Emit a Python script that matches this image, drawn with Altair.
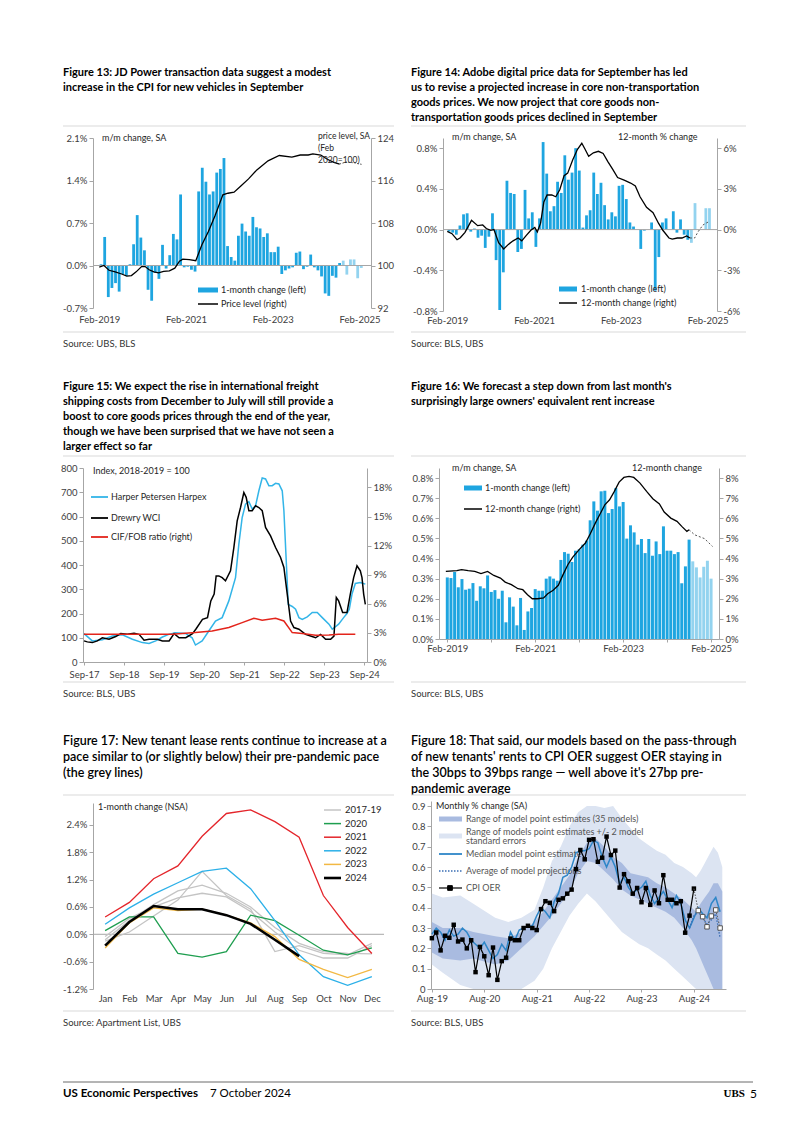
import json
import altair as alt
import pandas as pd

FONT = "Lato"
NARROW = "Lato"
ANNO = "Lato"
AXC = "#a6a6a6"
LABC = "#404040"
TXT = "#262626"
BLUE = "#1ea5e0"
BLUE_L = "#93d3ef"
SEP = "#d9d9d9"

# ---------------------------------------------------------------- data
# Figure 13: JD Power (m/m change, % ; price level Feb 2020 = 100), months from Feb-2019
f13_bars = [0.02, 0.47, -0.52, -0.37, -0.29, -0.43, -0.14, -0.17, 0.02, 0.35,
            0.83, 0.46, 0.25, -0.40, -0.58, -0.12, -0.22, 0.34, -0.05, 0.17,
            0.52, 0.43, 1.17, -0.03, -0.02, -0.07, -0.10, 1.22, 1.61, 1.38,
            1.17, 1.22, 1.53, 1.59, 1.77, 0.32, 0.14, 0.08, 0.49, 0.69,
            0.56, 0.49, 0.80, 0.63, 0.61, 0.47, 0.53, 0.22, 0.22, 0.31,
            -0.14, -0.08, -0.05, -0.03, 0.21, 0.23, -0.06, -0.02, 0.18, -0.03,
            -0.08, -0.18, -0.46, -0.50, -0.17, -0.20, 0.04]
f13_proj = [0.08, -0.15, 0.10, 0.10, -0.21, -0.04]
f13_line_m = [0, 1.3, 2.7, 4.4, 6.2, 7.6, 8.9, 10.2, 11.7, 12.7, 13.8, 15.1, 16.4, 17.8, 19.4,
              20.9, 22.2, 23.1, 24.9, 26.7, 28.4, 30.2, 32, 34.2, 35.6, 37.3, 39.1, 41.3, 43.6,
              46.7, 49.8, 53.3, 55.6, 57.8, 59.1, 61.3, 63.1, 64.9, 66.5]
f13_line_v = [99.7, 100.0, 99.1, 98.8, 98.4, 98.0, 98.1, 98.8, 99.8, 99.8, 99.2, 98.8, 98.6, 98.9, 99.0,
              99.5, 100.8, 101.2, 101.1, 100.9, 103.9, 106.4, 109.3, 113.3, 113.6, 113.8, 114.9, 116.3, 118.0,
              119.7, 120.7, 120.4, 120.8, 120.8, 121.0, 120.8, 120.0, 119.4, 119.1]
f13_dot_m = [66.5, 68.4, 70.7, 72.9]
f13_dot_v = [119.1, 119.5, 119.3, 119.0]
f13_xt = [0, 24, 48, 72]
f13_xl = ["Feb-2019", "Feb-2021", "Feb-2023", "Feb-2025"]

# Figure 14: Adobe digital prices, months from Feb-2019
f14_bars = [-0.02, -0.03, -0.05, 0.04, 0.15, 0.16, -0.02, 0.01, -0.08, -0.06,
            -0.18, -0.07, 0.16, -0.30, -0.79, -0.42, 0.48, 0.36, 0.35, -0.22,
            -0.19, 0.39, 0.11, 0.17, -0.17, 0.11, 0.86, 0.55, 0.18, 0.23,
            0.47, 0.36, 0.73, 0.49, 0.56, 0.80, 0.58, 0.02, 0.14, 0.19,
            0.56, 0.35, 0.46, 0.24, 0.10, 0.17, 0.13, 0.43, 0.44, 0.30,
            0.07, 0.03, 0.00, -0.19, -0.01, 0.00, 0.07, -0.60, -0.27, 0.07,
            0.11, 0.00, 0.18, -0.03, 0.10, -0.05, -0.10]
f14_proj = [-0.13, 0.26, 0.00, 0.00, 0.21, 0.21]
f14_line_m = [0, 1.3, 2.7, 3.6, 4.9, 6.7, 8.4, 9.8, 10.8, 12, 12.9, 14.2, 15.6, 16.9, 18.2,
              19.6, 20.6, 21.8, 23.1, 24.2, 24.9, 25.8, 26.7, 27.6, 28.9, 30, 31.1, 32.3, 33.3,
              34.7, 36, 37.2, 38.1, 39.1, 40.4, 41.8, 43.1, 44.4, 45.8, 47.1, 48.9, 50.7, 52,
              53.3, 55.1, 56.9, 58.4, 59.6, 61.3, 62.2, 63.6, 64.9, 66.2, 67.1]
f14_line_v = [-0.13, -0.3, -0.75, -0.6, -0.2, 0.68, 0.29, 0.34, 0.08, -0.05, 0, -0.96, -1.43, -1.09, -0.83,
              -0.62, -0.83, -0.44, -0.05, 0.16, -0.18, 0.47, 2.03, 2.55, 2.55, 2.42, 2.94, 3.97, 4.16,
              5.14, 5.92, 6.36, 5.92, 5.40, 5.66, 5.77, 5.61, 5.01, 4.42, 3.84, 3.64, 3.43, 3.22,
              2.42, 1.64, 1.25, 0.47, -0.05, -0.62, -0.70, -0.62, -0.62, -0.47, -0.62]
f14_dot_m = [67.1, 68.4, 69.3, 70.7, 72.4]
f14_dot_v = [-0.62, -0.62, -0.18, 0.34, 0.60]

# Figure 15: freight indices (months from Sep-2017)
f15_harpex_m = [0, 2.5, 5.5, 8.5, 11.5, 14.5, 17.5, 19.5, 21.5, 23.5, 25.4, 27.4, 30.4, 32.4, 33.4,
                35.4, 37.4, 39.4, 41.4, 43.4, 45.4, 46.4, 47.4, 48.4, 49.4, 50.4, 51.4, 52.4, 53.4,
                54.4, 55.4, 56.4, 57.4, 58.4, 59.4, 59.9, 60.6, 61.2, 62.4, 63.4, 64.4, 65.4, 66.9,
                68.4, 69.9, 71.4, 73.4, 74.4, 76.3, 77.8, 78.8, 79.5, 80.3, 81.3, 82.8, 84.3]
f15_harpex_v = [117, 87, 92, 107, 112, 94, 80, 76, 87, 103, 114, 121, 118, 100, 70,
                87, 128, 169, 183, 252, 348, 486, 596, 651, 661, 631, 644, 706, 759,
                755, 727, 727, 737, 734, 706, 624, 417, 238, 229, 218, 183, 176, 186,
                204, 204, 183, 156, 135, 156, 183, 200, 218, 280, 324, 328, 321]
f15_wci_m = [0, 1, 2.5, 4, 5.5, 7.5, 9.5, 11, 13, 15, 16.5, 18, 19.5, 22, 23.5, 25.5, 27, 28.5,
             30.5, 32.5, 33.5, 35.5, 37, 38, 39, 39.6, 40.4, 41.4, 42.4, 43.9, 44.9, 45.9, 46.9,
             47.9, 48.6, 49.4, 50.4, 51.4, 52.4, 53.4, 54.4, 55.9, 57.4, 58.9, 59.9, 60.9, 61.9,
             62.9, 64.4, 66.4, 67.9, 69.4, 70.9, 72.4, 73.9, 74.9, 75.6, 76.3, 77.5, 78.8, 79.8,
             80.8, 81.8, 82.8, 83.3, 83.8, 84.3]
f15_wci_v = [87, 83, 80, 87, 100, 94, 105, 117, 114, 118, 114, 90, 94, 94, 87, 87, 117, 100,
             100, 117, 135, 176, 183, 252, 280, 355, 355, 348, 335, 376, 472, 582, 637,
             699, 679, 624, 624, 644, 637, 624, 555, 520, 472, 431, 390, 280, 169,
             142, 135, 114, 107, 100, 114, 94, 94, 107, 266, 252, 204, 204, 280,
             348, 397, 376, 348, 280, 238]
f15_cif_m = [0, 8.5, 18.5, 26.4, 33.4, 38.4, 43.4, 47.4, 50.9, 53.4, 57.4, 59.9, 62.4, 65.4, 69.4, 73.4, 76.3, 81.3]
f15_cif_v = [2.86, 2.86, 2.86, 2.86, 3.03, 3.2, 3.55, 4.06, 4.51, 4.30, 4.51, 4.23, 3.03, 2.93, 2.75, 2.79, 2.86, 2.86]
f15_xt = [0, 12, 24, 36, 48, 60, 72, 84]
f15_xl = ["Sep-17", "Sep-18", "Sep-19", "Sep-20", "Sep-21", "Sep-22", "Sep-23", "Sep-24"]

# Figure 16 / 18: CPI OER m/m (%), Feb-2019 .. Aug-2024, then projections Sep-2024 .. Feb-2025
oer = [0.306, 0.303, 0.333, 0.257, 0.298, 0.245, 0.250, 0.278, 0.190, 0.262,
       0.252, 0.316, 0.234, 0.243, 0.200, 0.240, 0.083, 0.207, 0.161, 0.068,
       0.204, 0.045, 0.137, 0.154, 0.248, 0.240, 0.240, 0.300, 0.311, 0.300,
       0.290, 0.393, 0.432, 0.424, 0.383, 0.439, 0.446, 0.469, 0.489, 0.590,
       0.684, 0.638, 0.734, 0.737, 0.626, 0.646, 0.750, 0.659, 0.681, 0.499,
       0.565, 0.530, 0.469, 0.497, 0.427, 0.497, 0.414, 0.485, 0.422, 0.560,
       0.439, 0.439, 0.422, 0.432, 0.277, 0.361, 0.494]
oer_proj = [0.386, 0.356, 0.306, 0.359, 0.389, 0.300]
f16_line_m = [-0.4, 2.6, 3.9, 5.7, 7.5, 9.2, 11, 12.7, 14.5, 15.8, 17.5, 19.3, 20.6, 21.9, 23.2,
              24.6, 26.3, 27.4, 28.9, 30.3, 31.6, 32.9, 34.2, 36, 37.7, 39, 40.4, 41.7, 43, 44.3,
              45.6, 46.9, 48.2, 49.6, 50.9, 52.6, 54.4, 56.1, 57.9, 59.2, 61, 62.7, 64, 65.4, 66]
f16_line_v = [3.36, 3.40, 3.45, 3.40, 3.36, 3.25, 3.36, 3.16, 3.03, 2.83, 2.70, 2.50, 2.45, 2.20, 2.00,
              2.00, 2.04, 2.25, 2.42, 2.67, 3.20, 3.69, 4.06, 4.44, 4.77, 5.22, 5.76, 6.21, 6.67, 6.92,
              7.34, 7.80, 8.03, 8.08, 8.03, 7.75, 7.34, 6.97, 6.71, 6.31, 6.01, 5.85, 5.60, 5.35, 5.43]
f16_dot_m = [66, 67.5, 70.2, 72.4]
f16_dot_v = [5.43, 5.18, 4.99, 4.60]
f16_xt = [0, 12, 24, 36, 48, 60, 72]
f16_xl = ["Feb-2019", "", "Feb-2021", "", "Feb-2023", "", "Feb-2025"]

# Figure 17: Apartment List 1-month change (NSA), %
f17_months = ["Jan", "Feb", "Mar", "Apr", "May", "Jun", "Jul", "Aug", "Sep", "Oct", "Nov", "Dec"]
f17_2017 = [-0.12, 0.30, 0.65, 0.95, 1.08, 0.90, 0.60, 0.15, -0.20, -0.38, -0.42, -0.43]
f17_2018 = [-0.05, 0.35, 0.60, 0.80, 0.90, 0.82, 0.50, 0.05, -0.35, -0.52, -0.52, -0.25]
f17_2019 = [-0.15, 0.05, 0.40, 0.75, 1.38, 0.85, 0.55, -0.38, -0.25, -0.42, -0.45, -0.20]
f17_2020 = [0.08, 0.38, 0.38, -0.42, -0.50, -0.38, 0.42, 0.30, -0.02, -0.35, -0.45, -0.30]
f17_2021 = [0.38, 0.70, 1.22, 1.50, 2.15, 2.65, 2.73, 2.47, 2.13, 0.85, 0.15, -0.42]
f17_2022 = [0.22, 0.58, 0.88, 1.13, 1.38, 1.45, 1.00, 0.30, -0.45, -0.93, -1.12, -0.93]
f17_2023 = [-0.30, 0.25, 0.58, 0.52, 0.55, 0.42, 0.25, -0.05, -0.55, -0.77, -0.95, -0.77]
f17_2024 = [-0.25, 0.27, 0.62, 0.55, 0.55, 0.42, 0.23, -0.12, -0.48]

# Figure 18: model ranges (months from Aug-2019)
f18_band_m = [0.5, 3, 7, 10, 15, 18, 21, 24, 26, 28, 30, 32, 34, 36, 38, 40, 42, 44, 46, 48,
              50, 52, 54, 56, 58, 60, 61, 62, 63, 64, 65, 66, 67]
f18_light_hi = [0.47, 0.45, 0.46, 0.42, 0.35, 0.33, 0.35, 0.39, 0.50, 0.63, 0.70, 0.80, 0.87, 0.90, 0.90,
                0.89, 0.90, 0.84, 0.79, 0.74, 0.71, 0.68, 0.66, 0.62, 0.60, 0.57, 0.55, 0.58, 0.62,
                0.66, 0.70, 0.67, 0.60]
f18_light_lo = [0.12, 0.08, 0.02, 0.0, 0.0, 0.0, 0.0, 0.04, 0.10, 0.20, 0.28, 0.36, 0.42, 0.47, 0.43,
                0.38, 0.33, 0.28, 0.25, 0.22, 0.20, 0.17, 0.14, 0.10, 0.06, 0.02, 0.0, 0.0, 0.0,
                0.0, 0.0, 0.0, 0.0]
f18_dark_hi = [0.33, 0.30, 0.30, 0.28, 0.26, 0.25, 0.28, 0.33, 0.38, 0.44, 0.50, 0.56, 0.65, 0.72, 0.74,
               0.70, 0.65, 0.62, 0.57, 0.56, 0.55, 0.52, 0.50, 0.47, 0.44, 0.40, 0.38, 0.42, 0.45,
               0.48, 0.52, 0.52, 0.48]
f18_dark_lo = [0.18, 0.15, 0.14, 0.15, 0.12, 0.14, 0.20, 0.26, 0.31, 0.36, 0.42, 0.48, 0.57, 0.63, 0.62,
               0.58, 0.54, 0.49, 0.46, 0.44, 0.42, 0.40, 0.38, 0.35, 0.30, 0.24, 0.20, 0.15, 0.10,
               0.05, 0.0, 0.0, 0.0]
f18_median = [0.27, 0.30, 0.28, 0.24, 0.29, 0.26, 0.27, 0.30, 0.28, 0.24,
              0.22, 0.20, 0.23, 0.19, 0.15, 0.17, 0.22, 0.19, 0.28, 0.24,
              0.29, 0.30, 0.31, 0.31, 0.36, 0.40, 0.38, 0.35, 0.43, 0.47,
              0.55, 0.56, 0.60, 0.67, 0.68, 0.68, 0.69, 0.73, 0.72, 0.65,
              0.60, 0.65, 0.60, 0.52, 0.55, 0.50, 0.47, 0.49, 0.50, 0.53,
              0.46, 0.42, 0.45, 0.48, 0.44, 0.40, 0.46, 0.42, 0.34, 0.30,
              0.35, 0.40, 0.37, 0.35, 0.42, 0.45, 0.38]
f18_avg_m = [59.5, 60.5, 61.5, 62.5, 63.5, 64.5, 65.5, 66.5]
f18_avg_v = [0.30, 0.36, 0.38, 0.35, 0.32, 0.34, 0.37, 0.25]
f18_xt = [0.5, 12.5, 24.5, 36.5, 48.5, 60.5]
f18_xl = ["Aug-19", "Aug-20", "Aug-21", "Aug-22", "Aug-23", "Aug-24"]

# ---------------------------------------------------------------- layout helpers
W, H = 301, 200
ORIG = {13: (82, 130), 14: (430, 130), 15: (82, 461), 16: (430, 461), 17: (82, 792), 18: (430, 792)}
PLOT = {13: (10, 288, 7, 177), 14: (12, 286, 7, 180), 15: (0, 284, 6, 200),
        16: (8, 288, 6, 177), 17: (10, 301, 10, 196), 18: (0, 295, 8, 196)}
ONE = pd.DataFrame({"k": [0]})


def txt(fig, x, y, s, size=9, weight="normal", color=TXT, align="left", baseline="middle",
        font=ANNO, lh=None):
    ox, oy = ORIG[fig]
    kw = dict(align=align, baseline=baseline, fontSize=size, fontWeight=weight, color=color, font=font)
    if lh is not None:
        kw["lineHeight"] = lh
    return alt.Chart(ONE).mark_text(**kw).encode(
        x=alt.value(x - ox), y=alt.value(y - oy), text=alt.value(s))


def hline(fig, x1, x2, y, color, width=1.0, dash=None):
    ox, oy = ORIG[fig]
    kw = dict(color=color, strokeWidth=width)
    if dash is not None:
        kw["strokeDash"] = dash
    return alt.Chart(ONE).mark_rule(**kw).encode(
        x=alt.value(x1 - ox), x2=alt.value(x2 - ox), y=alt.value(y - oy))


def square(fig, x, y, size, fill, stroke):
    ox, oy = ORIG[fig]
    return alt.Chart(ONE).mark_point(shape="square", size=size, filled=True, fill=fill, stroke=stroke,
                                     strokeWidth=1, opacity=1).encode(
        x=alt.value(x - ox), y=alt.value(y - oy))


def lab_expr(vals, labs):
    return f"{json.dumps(labs)}[indexof({json.dumps(vals)}, datum.value)]"


PCT1 = "(datum.value < 0 ? '-' : '') + format(abs(datum.value), '.1f') + '%'"
PCT0 = "(datum.value < 0 ? '-' : '') + format(abs(datum.value), 'd') + '%'"
INT0 = "format(datum.value, 'd')"


def ax_left(fig, vals, expr):
    return alt.Axis(orient="left", values=vals, labelExpr=expr, offset=-PLOT[fig][0], grid=False,
                    domain=True, domainColor=AXC, ticks=True, tickSize=4, tickColor=AXC,
                    labelPadding=2, title=None)


def ax_right(fig, vals, expr):
    return alt.Axis(orient="right", values=vals, labelExpr=expr, offset=-(W - PLOT[fig][1]), grid=False,
                    domain=True, domainColor=AXC, ticks=True, tickSize=4, tickColor=AXC,
                    labelPadding=2, title=None)


def ax_bottom(fig, vals, expr, label_y, domain=False, ticks=False):
    py1 = PLOT[fig][3]
    ts = 3 if ticks else 0
    pad = (label_y - ORIG[fig][1]) - py1 - ts
    kw = dict(orient="bottom", offset=-(H - py1), grid=False, domain=domain, domainColor=AXC,
              ticks=ticks, tickSize=ts, tickColor=AXC, labelPadding=pad, labelBaseline="middle",
              labelAngle=0, labelFlush=False, labelOverlap=False, title=None)
    if vals is not None:
        kw["values"] = vals
    if expr is not None:
        kw["labelExpr"] = expr
    return alt.Axis(**kw)


def xs(fig, dom):
    return alt.Scale(domain=dom, range=[PLOT[fig][0], PLOT[fig][1]], nice=False, zero=False)


def ys(fig, dom):
    return alt.Scale(domain=dom, range=[PLOT[fig][3], PLOT[fig][2]], nice=False, zero=False)


def frame(fig, title_lines, title_top, sep_top, sep_bot, source, narrow=False):
    x0 = 62 if fig in (13, 15, 17) else 410
    x1 = 393 if fig in (13, 15, 17) else 745
    if narrow:
        t = txt(fig, x0, title_top, title_lines, size=12.5, weight=600, color="black",
                baseline="top", font=NARROW, lh=16)
    else:
        t = txt(fig, x0, title_top, title_lines, size=11, weight="bold", color="black",
                baseline="top", font=FONT, lh=15)
    return [t, hline(fig, x0, x1, sep_top, SEP), hline(fig, x0, x1, sep_bot, SEP),
            txt(fig, x0, sep_bot + 12, source, size=9.5, color="#333333", font=FONT)]


def zero_rule(fig, scale):
    return alt.Chart(pd.DataFrame({"z": [0]})).mark_rule(color=AXC, strokeWidth=1).encode(
        y=alt.Y("z:Q", scale=scale, axis=None),
        x=alt.value(PLOT[fig][0]), x2=alt.value(PLOT[fig][1]))


def finish(layer, indep_y=True):
    if indep_y:
        layer = layer.resolve_scale(y="independent")
    return layer.resolve_axis(x="independent", y="independent").properties(width=W, height=H)


# ---------------------------------------------------------------- Figure 13
X13 = xs(13, [-0.35, 73.8])
Y13L = ys(13, [-0.7, 2.1])
Y13R = ys(13, [92, 124])
d13b = pd.DataFrame({"m": [i + 0.5 for i in range(len(f13_bars))], "v": f13_bars})
d13p = pd.DataFrame({"m": [len(f13_bars) + i + 0.5 for i in range(len(f13_proj))], "v": f13_proj})
p13 = finish(alt.layer(
    hline(13, 8, 12, 8, "white"),
    *frame(13, ["Figure 13: JD Power transaction data suggest a modest",
                "increase in the CPI for new vehicles in September"], 66, 125, 331, "Source: UBS, BLS"),
    alt.Chart(d13b).mark_bar(size=2.8, color=BLUE).encode(
        x=alt.X("m:Q", scale=X13, axis=ax_bottom(13, f13_xt, lab_expr(f13_xt, f13_xl), 318)),
        y=alt.Y("v:Q", scale=Y13L, axis=ax_left(13, [-0.7, 0, 0.7, 1.4, 2.1], PCT1)),
        y2=alt.datum(0)),
    alt.Chart(d13p).mark_bar(size=2.8, color=BLUE_L).encode(
        x=alt.X("m:Q", scale=X13, axis=None),
        y=alt.Y("v:Q", scale=Y13L, axis=None), y2=alt.datum(0)),
    zero_rule(13, Y13L),
    alt.Chart(pd.DataFrame({"m": f13_line_m, "p": f13_line_v})).mark_line(color="black", strokeWidth=1.3).encode(
        x=alt.X("m:Q", scale=X13, axis=None),
        y=alt.Y("p:Q", scale=Y13R, axis=ax_right(13, [92, 100, 108, 116, 124], INT0))),
    alt.Chart(pd.DataFrame({"m": f13_dot_m, "p": f13_dot_v})).mark_line(
        color="#555555", strokeWidth=1, strokeDash=[1.5, 1.5]).encode(
        x=alt.X("m:Q", scale=X13, axis=None), y=alt.Y("p:Q", scale=Y13R, axis=None)),
    txt(13, 101, 137, "m/m change, SA"),
    txt(13, 317, 131, ["price level, SA", "(Feb", "2020=100)"], size=8.5, baseline="top", lh=12),
    hline(13, 197, 217, 289, BLUE, width=5),
    txt(13, 220, 289, "1-month change (left)"),
    hline(13, 197, 217, 303, "black", width=1.5),
    txt(13, 220, 303, "Price level (right)"),
))

# ---------------------------------------------------------------- Figure 14
X14 = xs(14, [0.2, 73.2])
Y14L = ys(14, [-0.8, 0.9])
Y14R = ys(14, [-6, 6.75])
d14b = pd.DataFrame({"m": [i + 0.5 for i in range(len(f14_bars))], "v": f14_bars})
d14p = pd.DataFrame({"m": [len(f14_bars) + i + 0.5 for i in range(len(f14_proj))], "v": f14_proj})
p14 = finish(alt.layer(
    *frame(14, ["Figure 14: Adobe digital price data for September has led",
                "us to revise a projected increase in core non-transportation",
                "goods prices. We now project that core goods non-",
                "transportation goods prices declined in September"], 66, 125, 331, "Source: BLS, UBS"),
    alt.Chart(d14b).mark_bar(size=2.8, color=BLUE).encode(
        x=alt.X("m:Q", scale=X14, axis=ax_bottom(14, f13_xt, lab_expr(f13_xt, f13_xl), 319)),
        y=alt.Y("v:Q", scale=Y14L, axis=ax_left(14, [-0.8, -0.4, 0, 0.4, 0.8], PCT1)),
        y2=alt.datum(0)),
    alt.Chart(d14p).mark_bar(size=2.8, color=BLUE_L).encode(
        x=alt.X("m:Q", scale=X14, axis=None),
        y=alt.Y("v:Q", scale=Y14L, axis=None), y2=alt.datum(0)),
    zero_rule(14, Y14L),
    alt.Chart(pd.DataFrame({"m": f14_line_m, "p": f14_line_v})).mark_line(color="black", strokeWidth=1.3).encode(
        x=alt.X("m:Q", scale=X14, axis=None),
        y=alt.Y("p:Q", scale=Y14R, axis=ax_right(14, [-6, -3, 0, 3, 6], PCT0))),
    alt.Chart(pd.DataFrame({"m": f14_dot_m, "p": f14_dot_v})).mark_line(
        color="#555555", strokeWidth=1, strokeDash=[2, 2]).encode(
        x=alt.X("m:Q", scale=X14, axis=None), y=alt.Y("p:Q", scale=Y14R, axis=None)),
    txt(14, 451, 136, "m/m change, SA"),
    txt(14, 617, 136, "12-month % change"),
    hline(14, 558, 576, 288, BLUE, width=5),
    txt(14, 580, 288, "1-month change (left)"),
    hline(14, 558, 576, 302, "black", width=1.5),
    txt(14, 580, 302, "12-month change (right)"),
))

# ---------------------------------------------------------------- Figure 15
X15 = xs(15, [-0.3, 84.8])
Y15L = ys(15, [0, 800])
Y15R = ys(15, [0, 20])
p15 = finish(alt.layer(
    *frame(15, ["Figure 15: We expect the rise in international freight",
                "shipping costs from December to July will still provide a",
                "boost to core goods prices through the end of the year,",
                "though we have been surprised that we have not seen a",
                "larger effect so far"], 380, 455, 681, "Source: BLS, UBS"),
    alt.Chart(pd.DataFrame({"m": f15_harpex_m, "v": f15_harpex_v})).mark_line(
        color="#33b5e8", strokeWidth=1.5).encode(
        x=alt.X("m:Q", scale=X15, axis=ax_bottom(15, f15_xt, lab_expr(f15_xt, f15_xl), 673,
                                                 domain=True, ticks=True)),
        y=alt.Y("v:Q", scale=Y15L, axis=ax_left(15, list(range(0, 801, 100)), INT0))),
    alt.Chart(pd.DataFrame({"m": f15_wci_m, "v": f15_wci_v})).mark_line(
        color="black", strokeWidth=1.5).encode(
        x=alt.X("m:Q", scale=X15, axis=None), y=alt.Y("v:Q", scale=Y15L, axis=None)),
    alt.Chart(pd.DataFrame({"m": f15_cif_m, "v": f15_cif_v})).mark_line(
        color="#e3241b", strokeWidth=1.5).encode(
        x=alt.X("m:Q", scale=X15, axis=None),
        y=alt.Y("v:Q", scale=Y15R, axis=ax_right(15, [0, 3, 6, 9, 12, 15, 18], PCT0))),
    txt(15, 92, 470, "Index, 2018-2019 = 100"),
    hline(15, 90, 107, 496, "#33b5e8", width=1.8),
    txt(15, 110, 496, "Harper Petersen Harpex"),
    hline(15, 90, 107, 517, "black", width=1.8),
    txt(15, 110, 517, "Drewry WCI"),
    hline(15, 90, 107, 536, "#e3241b", width=1.8),
    txt(15, 110, 536, "CIF/FOB ratio (right)"),
))

# ---------------------------------------------------------------- Figure 16
X16 = xs(16, [-0.9, 72.8])
Y16L = ys(16, [0, 0.85])
Y16R = ys(16, [0, 8.5])
d16b = pd.DataFrame({"m": list(range(len(oer))), "v": oer})
d16p = pd.DataFrame({"m": [len(oer) + i for i in range(len(oer_proj))], "v": oer_proj})
p16 = finish(alt.layer(
    *frame(16, ["Figure 16: We forecast a step down from last month's",
                "surprisingly large owners' equivalent rent increase"], 380, 455, 681, "Source: BLS, UBS"),
    alt.Chart(d16b).mark_bar(size=3.0, color=BLUE).encode(
        x=alt.X("m:Q", scale=X16, axis=ax_bottom(16, f16_xt, lab_expr(f16_xt, f16_xl), 647,
                                                 domain=True, ticks=True)),
        y=alt.Y("v:Q", scale=Y16L, axis=ax_left(16, [0, 0.1, 0.2, 0.3, 0.4, 0.5, 0.6, 0.7, 0.8], PCT1)),
        y2=alt.datum(0)),
    alt.Chart(d16p).mark_bar(size=3.0, color=BLUE_L).encode(
        x=alt.X("m:Q", scale=X16, axis=None),
        y=alt.Y("v:Q", scale=Y16L, axis=None), y2=alt.datum(0)),
    alt.Chart(pd.DataFrame({"m": f16_line_m, "p": f16_line_v})).mark_line(color="black", strokeWidth=1.3).encode(
        x=alt.X("m:Q", scale=X16, axis=None),
        y=alt.Y("p:Q", scale=Y16R, axis=ax_right(16, list(range(0, 9)), PCT0))),
    alt.Chart(pd.DataFrame({"m": f16_dot_m, "p": f16_dot_v})).mark_line(
        color="#555555", strokeWidth=1, strokeDash=[2, 2]).encode(
        x=alt.X("m:Q", scale=X16, axis=None), y=alt.Y("p:Q", scale=Y16R, axis=None)),
    txt(16, 451, 467, "m/m change, SA"),
    txt(16, 631, 467, "12-month change"),
    hline(16, 463, 481, 487, BLUE, width=5),
    txt(16, 484, 487, "1-month change (left)"),
    hline(16, 463, 481, 508, "black", width=1.5),
    txt(16, 484, 508, "12-month change (right)"),
))

# ---------------------------------------------------------------- Figure 17
X17 = alt.Scale(type="point", domain=f17_months, range=[PLOT[17][0], PLOT[17][1]], padding=0.5)
Y17 = ys(17, [-1.2, 2.88])


def mline(vals, name):
    return pd.DataFrame({"mon": f17_months[:len(vals)], "v": vals, "yr": name})


grey17 = pd.concat([mline(f17_2017, "2017"), mline(f17_2018, "2018"), mline(f17_2019, "2019")])
C17 = {"2020": "#1e9e4f", "2021": "#e4252b", "2022": "#2cb0e8", "2023": "#f2b843", "2024": "black"}
p17_layers = [
    *frame(17, ["Figure 17: New tenant lease rents continue to increase at a",
                "pace similar to (or slightly below) their pre-pandemic pace",
                "(the grey lines)"], 734, 794, 1010, "Source: Apartment List, UBS", narrow=True),
    zero_rule(17, Y17),
    alt.Chart(grey17).mark_line(color="#c4c4c4", strokeWidth=1.3).encode(
        x=alt.X("mon:N", scale=X17, sort=f17_months,
                axis=ax_bottom(17, None, None, 997)),
        y=alt.Y("v:Q", scale=Y17, axis=ax_left(17, [-1.2, -0.6, 0, 0.6, 1.2, 1.8, 2.4], PCT1)),
        detail="yr:N"),
]
for name, vals in [("2020", f17_2020), ("2022", f17_2022), ("2023", f17_2023), ("2021", f17_2021),
                   ("2024", f17_2024)]:
    p17_layers.append(alt.Chart(mline(vals, name)).mark_line(
        color=C17[name], strokeWidth=2.6 if name == "2024" else 1.3).encode(
        x=alt.X("mon:N", scale=X17, sort=f17_months, axis=None),
        y=alt.Y("v:Q", scale=Y17, axis=None)))
p17_layers.append(txt(17, 97, 806, "1-month change (NSA)"))
for i, (name, col) in enumerate([("2017-19", "#c4c4c4"), ("2020", C17["2020"]), ("2021", C17["2021"]),
                                 ("2022", C17["2022"]), ("2023", C17["2023"]), ("2024", "black")]):
    yy = 809 + i * 13.6
    p17_layers.append(hline(17, 323, 340, yy, col, width=2.6 if name == "2024" else 1.5))
    p17_layers.append(txt(17, 344, yy, name, size=9.5))
p17_layers += [
    txt(17, 62, 1093, "US Economic Perspectives", size=11.5, weight="bold", color="black", font=NARROW),
    txt(17, 209, 1093, "7 October 2024", size=11.5, color="black", font=NARROW),
    hline(17, 62, 752, 1081, "#444444", width=0.8),
]
p17 = finish(alt.layer(*p17_layers), indep_y=False)

# ---------------------------------------------------------------- Figure 18
X18 = xs(18, [0.3, 67.85])
Y18 = ys(18, [0, 0.925])
d18band = pd.DataFrame({"m": f18_band_m, "lh": f18_light_hi, "ll": f18_light_lo,
                        "dh": f18_dark_hi, "dl": f18_dark_lo})
d18med = pd.DataFrame({"m": [i + 0.5 for i in range(len(f18_median))], "v": f18_median})
oer18 = oer[6:]
d18oer = pd.DataFrame({"m": [i + 0.5 for i in range(len(oer18))], "v": oer18})
d18proj = pd.DataFrame({"m": [len(oer18) - 1 + i + 0.5 for i in range(len(oer_proj) + 1)],
                        "v": [oer18[-1]] + oer_proj})
d18projpts = d18proj.iloc[1:]
p18 = finish(alt.layer(
    *frame(18, ["Figure 18: That said, our models based on the pass-through",
                "of new tenants' rents to CPI OER suggest OER staying in",
                "the 30bps to 39bps range \u2014 well above it's 27bp pre-",
                "pandemic average"], 734, 794, 1010, "Source: BLS, UBS", narrow=True),
    alt.Chart(d18band).mark_area(color="#dce4f2", opacity=1).encode(
        x=alt.X("m:Q", scale=X18, axis=ax_bottom(18, f18_xt, lab_expr(f18_xt, f18_xl), 997,
                                                 domain=True, ticks=True)),
        y=alt.Y("lh:Q", scale=Y18, axis=ax_left(18, [0, 0.1, 0.2, 0.3, 0.4, 0.5, 0.6, 0.7, 0.8, 0.9],
                                               "datum.value == 0 ? '0' : format(datum.value, '.1f')")),
        y2="ll:Q"),
    alt.Chart(d18band).mark_area(color="#a9bbe0", opacity=1).encode(
        x=alt.X("m:Q", scale=X18, axis=None), y=alt.Y("dh:Q", scale=Y18, axis=None), y2="dl:Q"),
    txt(18, 435, 805, "Monthly % change (SA)"),
    hline(18, 438, 461, 818, "#a9bbe0", width=5),
    txt(18, 465, 818, "Range of model point estimates (35 models)", color="#555555"),
    hline(18, 438, 461, 835, "#dce4f2", width=5),
    txt(18, 465, 831, ["Range of models point estimates +/- 2 model", "standard errors"],
        color="#555555", baseline="middle", lh=9),
    hline(18, 438, 461, 853, "#2e86c8", width=1.8),
    txt(18, 465, 853, "Median model point estimate", color="#555555"),
    hline(18, 438, 461, 870, "#3a6db4", width=1.5, dash=[1.5, 1.5]),
    txt(18, 465, 870, "Average of model projections", color="#555555"),
    hline(18, 438, 461, 887, "black", width=1.2),
    square(18, 449, 887, 22, "black", "black"),
    txt(18, 465, 887, "CPI OER", color="#555555"),
    alt.Chart(d18med).mark_line(color="#2e86c8", strokeWidth=1.5).encode(
        x=alt.X("m:Q", scale=X18, axis=None), y=alt.Y("v:Q", scale=Y18, axis=None)),
    alt.Chart(pd.DataFrame({"m": f18_avg_m, "v": f18_avg_v})).mark_line(
        color="#3a6db4", strokeWidth=1.3, strokeDash=[1.5, 1.5]).encode(
        x=alt.X("m:Q", scale=X18, axis=None), y=alt.Y("v:Q", scale=Y18, axis=None)),
    alt.Chart(d18oer).mark_line(color="black", strokeWidth=1.2,
                                point=alt.OverlayMarkDef(shape="square", size=20, filled=True,
                                                         color="black")).encode(
        x=alt.X("m:Q", scale=X18, axis=None), y=alt.Y("v:Q", scale=Y18, axis=None)),
    alt.Chart(d18proj).mark_line(color="#555555", strokeWidth=1, strokeDash=[1.5, 1.5]).encode(
        x=alt.X("m:Q", scale=X18, axis=None), y=alt.Y("v:Q", scale=Y18, axis=None)),
    alt.Chart(d18projpts).mark_point(shape="square", size=20, filled=True, fill="white",
                                     stroke="#555555", strokeWidth=1, opacity=1).encode(
        x=alt.X("m:Q", scale=X18, axis=None), y=alt.Y("v:Q", scale=Y18, axis=None)),
    txt(18, 744, 1093, "UBS", size=11, weight="bold", color="black", font="Liberation Serif", align="right"),
    txt(18, 749, 1093, "5", size=12, color="black", font=NARROW, align="left"),
), indep_y=False)

chart = alt.concat(p13, p14, p15, p16, p17, p18, columns=2,
                   spacing={"row": 131, "column": 47}, bounds="flush", align="all").properties(
    padding=0).configure_view(strokeWidth=0).configure_axis(
    labelFont=FONT, labelFontSize=9.5, labelColor=LABC).configure_text(font=FONT)

chart.save("out.html", embed_options={"renderer": "svg", "actions": False})
